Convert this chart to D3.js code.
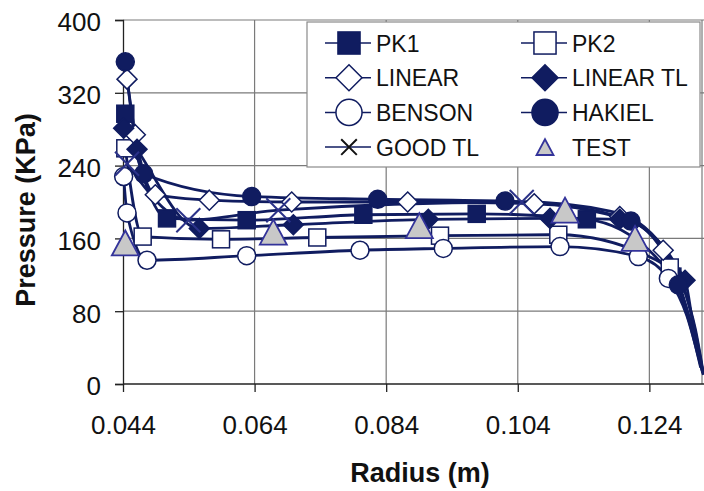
<!DOCTYPE html>
<html>
<head>
<meta charset="utf-8">
<script src="https://cdn.jsdelivr.net/npm/d3@7"></script>
<style>
  body { margin: 0; background: white; }
  text { font-family: "Liberation Sans", Arial, sans-serif; }
</style>
</head>
<body>
<script>
// radius (m), pressure (KPa)
var pk1 = [[0.04435, 297], [0.05069, 182], [0.0628, 180], [0.08053, 186], [0.09776, 187], [0.1145, 181], [0.1275, 118]]
var pk1Tail = [[0.1300, 70], [0.1318, 18]]
var pk2 = [[0.04435, 259], [0.04699, 162], [0.0589, 159], [0.07353, 161], [0.09218, 163], [0.11016, 164], [0.1271, 128]]
var pk2Tail = [[0.1300, 75], [0.1320, 15]]
var linear = [[0.04461, 335], [0.04587, 274], [0.04891, 208], [0.05712, 202], [0.06964, 200], [0.08727, 200], [0.1065, 198], [0.1195, 184], [0.1261, 147]]
var linearTail = [[0.1295, 100], [0.1312, 50], [0.1322, 10]]
var linearTL = [[0.0441, 281], [0.04613, 258], [0.0556, 171], [0.06989, 175], [0.0904, 181], [0.1089, 182], [0.1195, 181], [0.12942, 114]]
var linearTLTail = [[0.1305, 72], [0.1321, 15]]
var benson = [[0.0441, 228], [0.04461, 188], [0.04765, 136], [0.0628, 141], [0.08002, 147], [0.09268, 149], [0.11042, 151], [0.12232, 140], [0.12689, 116]]
var bensonTail = [[0.1297, 75], [0.1318, 20]]
var hakiel = [[0.04435, 354], [0.04715, 231], [0.06356, 206], [0.08271, 203], [0.10206, 201], [0.1212, 179], [0.1284, 109]]
var hakielTail = [[0.1306, 58], [0.1321, 12]]
var goodTL = [[0.04461, 242], [0.05393, 180], [0.0676, 191], [0.1046, 200]]
var goodTLTail = [[0.1180, 190], [0.1250, 160], [0.1290, 110], [0.1310, 60], [0.1322, 12]]
var test = [[0.04435, 155], [0.06685, 167], [0.08904, 174], [0.11118, 191], [0.12182, 160]]

var xTicks = [0.044, 0.064, 0.084, 0.104, 0.124]
var yTicks = [0, 80, 160, 240, 320, 400]

var navy = "#101c60"

var series = [
	{name: "PK1", pts: pk1, tail: pk1Tail, marker: "fsquare"},
	{name: "PK2", pts: pk2, tail: pk2Tail, marker: "osquare"},
	{name: "LINEAR", pts: linear, tail: linearTail, marker: "odiamond"},
	{name: "LINEAR TL", pts: linearTL, tail: linearTLTail, marker: "fdiamond"},
	{name: "BENSON", pts: benson, tail: bensonTail, marker: "ocircle"},
	{name: "HAKIEL", pts: hakiel, tail: hakielTail, marker: "fcircle"},
	{name: "GOOD TL", pts: goodTL, tail: goodTLTail, marker: "cross"},
	{name: "TEST", pts: test, tail: null, marker: "triangle"}
]

var svg = d3.select("body").append("svg")
	.attr("width", 704).attr("height", 491)
	.style("background", "white")

var x = d3.scaleLinear().domain([0.044, 0.132]).range([123, 702])
var y = d3.scaleLinear().domain([0, 400]).range([384, 20])

// grid
svg.append("g").selectAll("line").data(yTicks.slice(1)).enter().append("line")
	.attr("x1", 123).attr("x2", 704).attr("y1", y).attr("y2", y)
	.attr("stroke", "#7a7a7a").attr("stroke-width", 1.2)
svg.append("g").selectAll("line").data(xTicks.slice(1)).enter().append("line")
	.attr("x1", x).attr("x2", x).attr("y1", 20).attr("y2", 384)
	.attr("stroke", "#7a7a7a").attr("stroke-width", 1.2)
svg.append("line").attr("x1", 702).attr("x2", 702).attr("y1", 20).attr("y2", 384)
	.attr("stroke", "#7a7a7a").attr("stroke-width", 1.2)

// axes
var yAxis = d3.axisLeft(y).tickValues(yTicks).tickSize(8).tickPadding(14)
var gy = svg.append("g").attr("transform", "translate(123,0)").call(yAxis)
gy.selectAll("text").attr("font-size", 26).attr("fill", "#111").attr("dy", "0.42em")
	.style("font-family", '"Liberation Sans", Arial, sans-serif')
gy.selectAll("line, path").attr("stroke", "#222").attr("stroke-width", 1.3)

var xAxis = d3.axisBottom(x).tickValues(xTicks).tickSize(8).tickPadding(24).tickFormat(d3.format(".3f"))
var gx = svg.append("g").attr("transform", "translate(0,384)").call(xAxis)
gx.selectAll("text").attr("font-size", 26).attr("fill", "#111")
	.style("font-family", '"Liberation Sans", Arial, sans-serif')
gx.selectAll("line, path").attr("stroke", "#222").attr("stroke-width", 1.3)
gx.select("path").attr("d", "M123,0H704")

svg.append("text").attr("x", 420).attr("y", 482).attr("text-anchor", "middle")
	.attr("font-size", 27).attr("font-weight", "bold").attr("fill", "#111").text("Radius (m)")
svg.append("text").attr("transform", "translate(35,210) rotate(-90)").attr("text-anchor", "middle")
	.attr("font-size", 27).attr("font-weight", "bold").attr("fill", "#111").text("Pressure (KPa)")

// lines first, then markers on top
var line = d3.line().x(function(d) { return x(d[0]) }).y(function(d) { return y(d[1]) })
	.curve(d3.curveMonotoneX)

var plot = svg.append("g")
series.forEach(function(s) {
	if (!s.tail) return
	plot.append("path").attr("d", line(s.pts.concat(s.tail)))
		.attr("fill", "none").attr("stroke", navy).attr("stroke-width", 2.8)
})

function drawMarker(g, type, cx, cy, k) {
	k = k || 1
	if (type == "fsquare" || type == "osquare") {
		var h = 8.5 * k
		g.append("rect").attr("x", cx - h).attr("y", cy - h).attr("width", 2 * h).attr("height", 2 * h)
			.attr("fill", type == "fsquare" ? navy : "white").attr("stroke", navy).attr("stroke-width", 1.5)
	} else if (type == "fdiamond" || type == "odiamond") {
		var h = 10 * k
		g.append("path").attr("d", "M" + cx + "," + (cy - h) + "L" + (cx + h) + "," + cy + "L" + cx + "," + (cy + h) + "L" + (cx - h) + "," + cy + "Z")
			.attr("fill", type == "fdiamond" ? navy : "white").attr("stroke", navy).attr("stroke-width", 1.5)
	} else if (type == "fcircle" || type == "ocircle") {
		g.append("circle").attr("cx", cx).attr("cy", cy).attr("r", 9 * k)
			.attr("fill", type == "fcircle" ? navy : "white").attr("stroke", navy).attr("stroke-width", 1.5)
	} else if (type == "cross") {
		var h = 12 * k
		g.append("path").attr("d", "M" + (cx - h) + "," + (cy - h) + "L" + (cx + h) + "," + (cy + h) + "M" + (cx - h) + "," + (cy + h) + "L" + (cx + h) + "," + (cy - h))
			.attr("stroke", k < 1 ? "#111" : "#2b3289").attr("stroke-width", 2).attr("fill", "none")
	} else if (type == "triangle") {
		var w = 13.5 * k, t = 12.5 * k
		g.append("path").attr("d", "M" + cx + "," + (cy - t) + "L" + (cx + w) + "," + (cy + t) + "L" + (cx - w) + "," + (cy + t) + "Z")
			.attr("fill", "#c8c8c8").attr("stroke", "#33339a").attr("stroke-width", 1.8)
	}
}

series.forEach(function(s) {
	var g = plot.append("g")
	s.pts.forEach(function(d) { drawMarker(g, s.marker, x(d[0]), y(d[1])) })
})

// legend
var legend = svg.append("g")
legend.append("rect").attr("x", 307).attr("y", 22).attr("width", 393).attr("height", 145)
	.attr("fill", "white").attr("stroke", "#8a8a8a").attr("stroke-width", 1.2)
var legScale = {fsquare: 1.3, osquare: 1.3, odiamond: 1.3, fdiamond: 1.3, ocircle: 1.45, fcircle: 1.45, cross: 0.65, triangle: 0.63}
series.forEach(function(s, i) {
	var col = i % 2, row = Math.floor(i / 2)
	var mx = col == 0 ? 349 : 545
	var my = 43 + row * 34.7
	var g = legend.append("g")
	if (s.marker != "triangle") {
		g.append("line").attr("x1", mx - 24).attr("x2", mx + 22).attr("y1", my).attr("y2", my)
			.attr("stroke", navy).attr("stroke-width", 1.5)
	}
	drawMarker(g, s.marker, mx, my, legScale[s.marker])
	g.append("text").attr("x", mx + 27).attr("y", my + 8.5).attr("font-size", 23).attr("fill", "#111").text(s.name)
})
</script>
</body>
</html>
